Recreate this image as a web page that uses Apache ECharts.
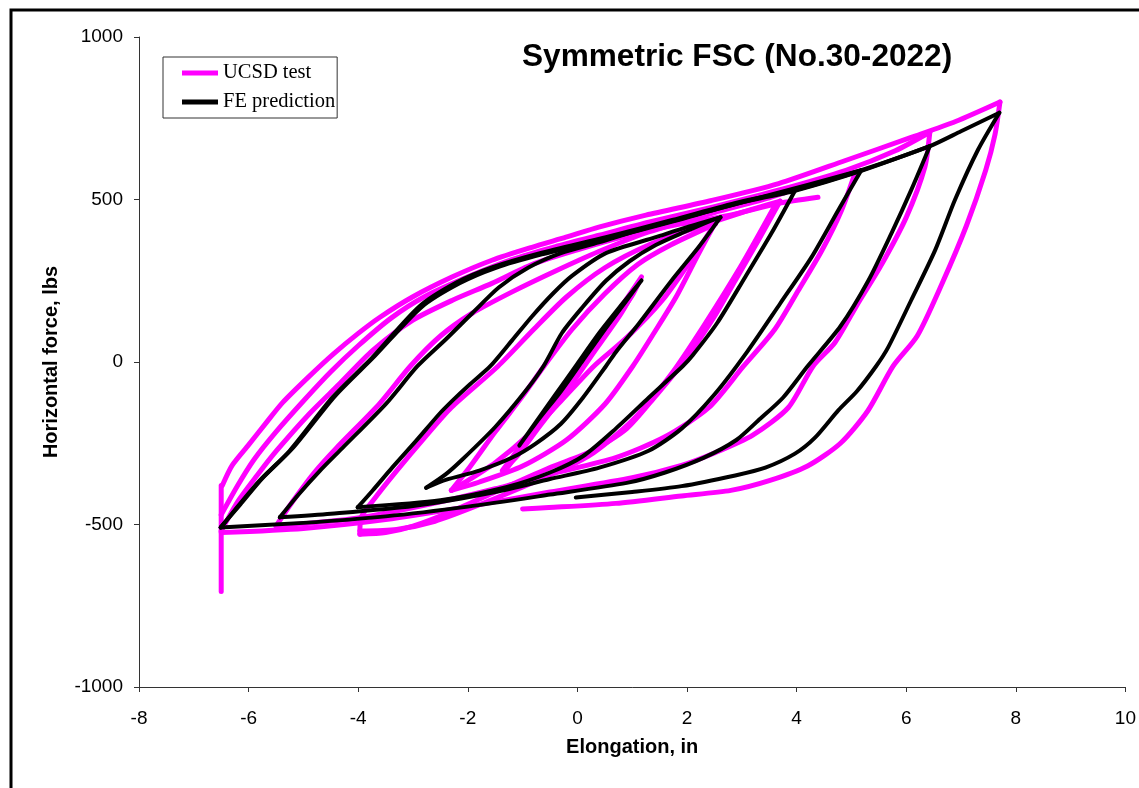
<!DOCTYPE html>
<html>
<head>
<meta charset="utf-8">
<script src="https://cdn.jsdelivr.net/npm/echarts@6/dist/echarts.min.js"></script>
<style>
  html, body { margin: 0; padding: 0; background: #fff; }
  #chart { width: 1139px; height: 788px; }
</style>
</head>
<body>
<div id="chart"></div>
<script>
// axis ticks
var xTicks = [-8, -6, -4, -2, 0, 2, 4, 6, 8, 10];
var yTicks = [-1000, -500, 0, 500, 1000];

// UCSD test (pink) branches, [elongation in, force lbs]
var testSpike = [[-6.5, -706], [-6.5, -520], [-6.5, -380]];
var testEnvOuter = [[-6.48, -380], [-6.3, -318], [-6.0, -255], [-5.67, -185], [-5.38, -125], [-4.9, -45], [-4.45, 25], [-4.0, 88], [-3.61, 137], [-3.01, 200], [-2.28, 262], [-1.56, 313], [-0.83, 353], [-0.21, 384], [0.39, 415], [1.25, 452], [2.45, 497], [3.67, 549], [4.89, 620], [6.09, 691], [6.9, 740], [7.71, 800]];
var testEnvInner = [[-6.5, -470], [-6.2, -380], [-5.9, -300], [-5.5, -215], [-5.0, -120], [-4.5, -30], [-4.0, 50], [-3.4, 135], [-2.8, 200], [-2.0, 262], [-1.2, 315], [-0.4, 355], [0.4, 390], [1.3, 430], [2.5, 478], [3.7, 530], [4.9, 590], [5.8, 650], [6.43, 707]];
var testLastLoad = [[-6.5, -520], [-6.2, -430], [-5.85, -350], [-5.49, -273], [-4.89, -159], [-4.34, -67], [-3.74, 35], [-3.01, 128], [-2.28, 190], [-1.56, 242], [-0.83, 300], [0.0, 345], [0.9, 388], [1.8, 422], [2.76, 451], [3.67, 488], [4.39, 507]];
var testLoad4 = [[-5.5, -505], [-5.2, -430], [-4.8, -340], [-4.4, -265], [-3.61, -128], [-3.05, -13], [-2.5, 80], [-1.92, 150], [-1.2, 215], [-0.4, 280], [0.39, 340], [1.3, 400], [2.5, 460], [3.5, 505], [4.3, 550], [5.07, 584]];
var testLoad3 = [[-3.97, -530], [-3.95, -480], [-3.7, -420], [-3.3, -335], [-2.8, -235], [-2.3, -140], [-1.45, -13], [-0.8, 100], [-0.2, 200], [0.5, 290], [1.3, 360], [2.2, 415], [3.0, 460], [3.7, 495]];
var testLoad2 = [[-2.3, -395], [-1.95, -320], [-1.5, -215], [-1.0, -105], [-0.61, -13], [-0.1, 100], [0.5, 210], [1.1, 300], [1.7, 360], [2.52, 425]];
var testLoop1 = [[-1.37, -334], [-1.0, -250], [-0.5, -130], [0.0, -15], [0.5, 100], [0.9, 195], [1.17, 262], [0.8, 150], [0.3, 30], [-0.2, -90], [-0.7, -200], [-1.1, -290], [-1.37, -334]];
var testLoop1b = [[-1.3, -330], [-0.9, -240], [-0.4, -125], [0.05, -20], [0.55, 95], [1.0, 205], [1.12, 245], [0.7, 140], [0.2, 25], [-0.3, -100], [-0.8, -215], [-1.3, -330]];
var testUnload2a = [[2.52, 430], [2.2, 330], [1.8, 200], [1.4, 90], [1.01, -13], [0.5, -130], [-0.2, -240], [-1.0, -320], [-1.8, -370], [-2.3, -395]];
var testUnload2b = [[2.45, 410], [2.1, 320], [1.55, 190], [0.9, 75], [0.3, -13], [-0.3, -120], [-0.9, -225], [-1.5, -310], [-2.0, -365], [-2.3, -395]];
var testUnload3 = [[3.7, 495], [3.3, 374], [2.88, 251], [2.5, 140], [2.05, 25], [1.88, -13], [1.45, -100], [0.9, -205], [0.27, -273], [-0.5, -325], [-1.5, -400], [-2.3, -460], [-3.0, -505], [-3.5, -525], [-3.97, -530]];
var testUnload3b = [[3.6, 480], [3.0, 300], [2.3, 110], [1.7, -40], [1.0, -180], [0.2, -290], [-0.8, -370], [-1.8, -440], [-2.6, -490], [-3.3, -515], [-3.97, -520]];
var testUnload4 = [[5.07, 584], [4.82, 467], [4.46, 343], [4.03, 220], [3.6, 100], [3.03, -13], [2.4, -140], [1.6, -230], [0.7, -294], [-0.5, -345], [-1.5, -390], [-2.5, -430], [-4.0, -480], [-5.5, -505]];
var testUnload5 = [[6.43, 707], [6.34, 600], [6.0, 445], [5.55, 300], [5.1, 175], [4.7, 60], [4.3, -13], [3.85, -140], [3.2, -225], [2.5, -280], [1.9, -318], [1.0, -356], [-0.5, -400], [-2.0, -445], [-3.5, -485], [-5.0, -512], [-6.5, -525]];
var testUnload6 = [[7.71, 800], [7.62, 700], [7.45, 590], [7.1, 420], [6.65, 240], [6.2, 80], [5.76, -13], [5.3, -150], [4.8, -250], [4.2, -320], [3.5, -365], [2.8, -395], [1.9, -412], [0.7, -435], [-0.52, -448], [-1.0, -452]];

// FE prediction (black) branches
var feEnv = [[-6.51, -509], [-6.2, -445], [-5.8, -365], [-5.25, -273], [-4.47, -109], [-3.74, 14], [-2.89, 170], [-2.2, 245], [-1.56, 291], [-0.7, 334], [0.52, 384], [1.73, 437], [2.94, 492], [3.97, 529], [5.18, 590], [6.43, 664], [7.0, 710], [7.7, 767]];
var feEnv2 = [[-6.51, -509], [-6.15, -438], [-5.75, -358], [-5.2, -266], [-4.42, -104], [-3.7, 18], [-2.85, 168], [-2.15, 242], [-1.5, 289], [-0.65, 331], [0.55, 380], [1.75, 433], [2.95, 489], [3.97, 527], [5.18, 588], [6.43, 664]];
var feLoad4 = [[-5.43, -478], [-5.1, -410], [-4.7, -335], [-4.29, -265], [-3.49, -128], [-2.92, -13], [-2.4, 70], [-1.92, 150], [-1.43, 230], [-0.9, 290], [-0.3, 335], [0.39, 368], [1.2, 410], [2.2, 455], [3.2, 500], [4.2, 545], [5.18, 590]];
var feLoad3 = [[-4.01, -447], [-3.74, -396], [-3.38, -325], [-2.94, -242], [-2.52, -160], [-2.28, -119], [-1.97, -70], [-1.59, -13], [-1.2, 65], [-0.83, 140], [-0.45, 210], [-0.1, 265], [0.52, 335], [1.43, 384], [2.0, 415], [2.61, 445]];
var feLoad2 = [[-2.76, -387], [-2.4, -345], [-2.1, -300], [-1.5, -200], [-0.95, -90], [-0.62, -13], [-0.28, 90], [0.1, 170], [0.52, 250], [0.95, 310], [1.43, 360], [1.95, 400], [2.45, 436], [2.61, 445]];
var feLoop1 = [[1.17, 251], [0.9, 190], [0.5, 100], [0.1, 5], [-0.3, -90], [-0.7, -175], [-1.06, -257], [-0.8, -195], [-0.4, -100], [0.0, -5], [0.4, 90], [0.8, 175], [1.17, 251]];
var feUnload2 = [[2.61, 445], [2.21, 353], [1.72, 251], [1.12, 118], [0.7, 30], [0.52, -13], [0.1, -110], [-0.3, -190], [-0.76, -251], [-1.19, -294], [-1.79, -334], [-2.39, -362], [-2.76, -387]];
var feUnload3 = [[3.97, 527], [3.54, 396], [3.06, 261], [2.55, 120], [2.1, 20], [1.92, -13], [1.3, -110], [0.7, -205], [0.1, -290], [-0.5, -340], [-1.3, -385], [-2.5, -425], [-4.01, -447]];
var feUnload4 = [[5.18, 590], [4.76, 467], [4.27, 322], [3.7, 180], [3.1, 32], [2.5, -100], [1.9, -205], [1.3, -273], [0.4, -325], [-0.5, -360], [-1.5, -400], [-3.0, -443], [-4.5, -467], [-5.43, -478]];
var feUnload5 = [[6.43, 664], [6.09, 529], [5.73, 396], [5.31, 251], [4.8, 110], [4.2, -13], [3.75, -110], [3.3, -180], [2.9, -240], [2.3, -295], [1.6, -340], [0.9, -372], [-0.5, -408], [-2.0, -445], [-3.5, -475], [-5.0, -495], [-6.51, -509]];
var feUnload6 = [[7.7, 767], [7.31, 653], [6.89, 499], [6.53, 345], [6.09, 190], [5.67, 45], [5.45, -13], [5.1, -90], [4.76, -149], [4.34, -232], [3.97, -282], [3.43, -325], [2.88, -349], [1.9, -382], [1.0, -400], [-0.03, -417]];

var testBranches = [testSpike, testEnvOuter, testEnvInner, testLastLoad, testLoad4, testLoad3, testLoad2,
  testLoop1, testLoop1b, testUnload2a, testUnload2b, testUnload3, testUnload3b, testUnload4, testUnload5, testUnload6];
var feBranches = [feEnv, feEnv2, feLoad4, feLoad3, feLoad2, feLoop1, feUnload2, feUnload3, feUnload4, feUnload5, feUnload6];

var chart = echarts.init(document.getElementById('chart'));

function branchSeries(name, color, width, data) {
  return {
    name: name,
    type: 'line',
    data: data,
    showSymbol: false,
    symbol: 'none',
    smooth: 0.25,
    silent: true,
    animation: false,
    lineStyle: { color: color, width: width, join: 'round', cap: 'round' },
    itemStyle: { color: color }
  };
}

var series = [];
testBranches.forEach(function (b) { series.push(branchSeries('UCSD test', '#ff00ff', 5, b)); });
feBranches.forEach(function (b) { series.push(branchSeries('FE prediction', '#000000', 4, b)); });

var font = 'Liberation Sans, Arial, sans-serif';

var option = {
  animation: false,
  backgroundColor: '#fff',
  title: {
    text: 'Symmetric FSC (No.30-2022)',
    left: 522,
    top: 41,
    padding: 0,
    textStyle: { fontFamily: font, fontSize: 31.6, fontWeight: 'bold', color: '#000' }
  },
  legend: {
    orient: 'vertical',
    left: 163,
    top: 57,
    padding: [5, 2, 5, 19],
    itemGap: 7,
    itemWidth: 36,
    itemHeight: 5,
    backgroundColor: '#fff',
    borderColor: '#333',
    borderWidth: 1,
    borderRadius: 0,
    selectedMode: false,
    data: [{ name: 'UCSD test', icon: 'rect' }, { name: 'FE prediction', icon: 'rect' }],
    textStyle: { fontFamily: 'Liberation Serif, Times New Roman, serif', fontSize: 20.5, lineHeight: 22, color: '#000' }
  },
  grid: { left: 139, right: 12, top: 37, bottom: 101, containLabel: false },
  xAxis: {
    type: 'value',
    min: -8, max: 10, interval: 2,
    name: 'Elongation, in',
    nameLocation: 'middle',
    nameGap: 50,
    nameTextStyle: { fontFamily: font, fontSize: 20, fontWeight: 'bold', color: '#000' },
    axisLine: { onZero: false, lineStyle: { color: '#333', width: 1 } },
    axisTick: { show: true, length: 5, inside: false, lineStyle: { color: '#333' } },
    axisLabel: { fontFamily: font, fontSize: 19, color: '#000', margin: 22,
      customValues: xTicks, formatter: function (v) { return String(v); } },
    splitLine: { show: false }
  },
  yAxis: {
    type: 'value',
    min: -1000, max: 1000, interval: 500,
    name: 'Horizontal force, lbs',
    nameLocation: 'middle',
    nameGap: 78,
    nameRotate: 90,
    nameTextStyle: { fontFamily: font, fontSize: 20, fontWeight: 'bold', color: '#000' },
    axisLine: { show: true, onZero: false, lineStyle: { color: '#333', width: 1 } },
    axisTick: { show: true, length: 5, inside: false, lineStyle: { color: '#333' } },
    axisLabel: { fontFamily: font, fontSize: 19, color: '#000', margin: 16,
      customValues: yTicks, formatter: function (v) { return String(v); } },
    splitLine: { show: false }
  },
  graphic: [{
    type: 'rect',
    silent: true,
    shape: { x: 11, y: 10, width: 1200, height: 900 },
    style: { fill: 'none', stroke: '#000', lineWidth: 3 },
    z: 100
  }],
  series: series
};

chart.setOption(option);
</script>
</body>
</html>
